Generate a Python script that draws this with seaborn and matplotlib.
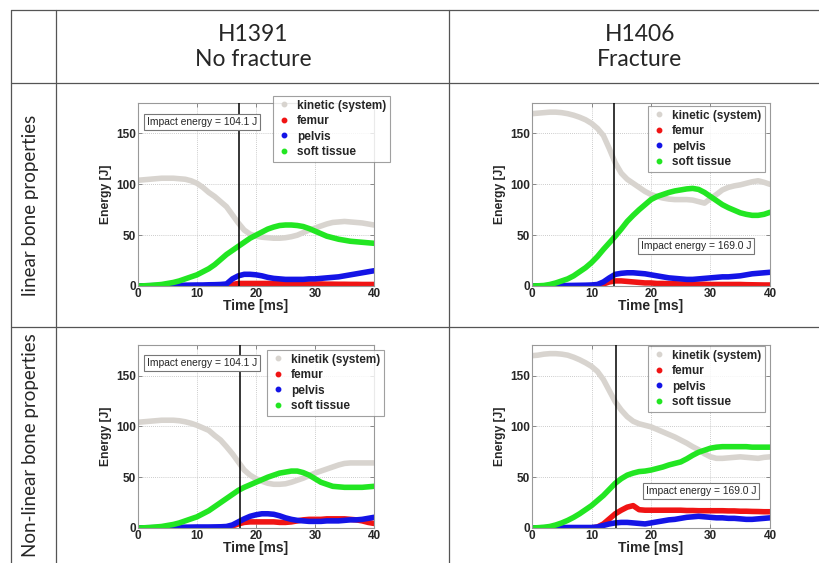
import numpy as np
import pandas as pd
import matplotlib
matplotlib.use("Agg")
import matplotlib.pyplot as plt
from matplotlib.lines import Line2D
import seaborn as sns

# ---------------- data ----------------
time_ms = list(range(0, 41))

series_names = ["kinetic (system)", "femur", "pelvis", "soft tissue"]
series_names_nl = ["kinetik (system)", "femur", "pelvis", "soft tissue"]

# linear bone properties, H1391 (no fracture)
lin_h1391_kinetic = [104, 104.5, 105, 105.5, 106, 106, 106, 105.5, 105, 103.5, 101, 97, 92, 88, 83, 78, 70, 62, 55, 51,
                     49, 48, 47.5, 47, 47, 47.5, 48.5, 50, 52.5, 55, 57, 59, 61, 62.5, 63, 63.5, 63, 62.5, 62, 61, 60]
lin_h1391_femur = [0, 0, 0, 0, 0, 0, 0, 0, 0, 0, 0, 0, 0, 0, 0.2, 0.4, 1.5, 2.5, 2.5, 2.5,
                   2.5, 2.5, 2.5, 2.5, 2.5, 2.5, 2.2, 2, 2, 2, 2, 2, 1.8, 1.8, 1.7, 1.7, 1.6, 1.6, 1.5, 1.5, 1.5]
lin_h1391_pelvis = [0, 0.2, 0.3, 0.4, 0.5, 0.5, 0.6, 0.7, 0.8, 0.9, 1, 1, 1.2, 1.3, 1.5, 2, 7, 10, 11.5, 11.5,
                    11, 10, 8.5, 7.5, 7, 6.5, 6.5, 6.5, 6.5, 7, 7, 7.5, 8, 8.5, 9, 10, 11, 12, 13, 14, 15]
lin_h1391_soft = [0, 0.2, 0.5, 1, 1.5, 2.5, 3.5, 5, 7, 9, 11, 14, 17, 21, 26, 31, 35, 39, 43, 47,
                  50, 53, 56, 58, 59.5, 60, 60, 59.5, 58.5, 56.5, 54, 51.5, 49, 47.5, 46, 45, 44, 43.5, 43, 42.5, 42]

# linear bone properties, H1406 (fracture)
lin_h1406_kinetic = [169.5, 170, 170.5, 171, 171, 170.5, 169.5, 168, 166, 163.5, 160, 155, 148, 135, 121, 111, 105, 101, 97, 93,
                     90, 88, 86.5, 85.5, 85, 85, 85, 84.5, 83, 81.5, 86, 90, 94.5, 97, 98.5, 99.5, 101, 102.5, 103.5, 102, 100]
lin_h1406_femur = [0, 0, 0, 0, 0, 0, 0, 0, 0, 0, 0, 0.3, 2, 4, 5, 5, 4.5, 4, 3.5, 3,
                   3, 2.5, 2.5, 2.3, 2.2, 2, 2, 1.9, 1.8, 1.7, 1.5, 1.5, 1.5, 1.5, 1.5, 1.5, 1.3, 1.2, 1.1, 1, 1]
lin_h1406_pelvis = [0, 0.1, 0.2, 0.3, 0.4, 0.5, 0.5, 0.6, 0.7, 0.8, 1, 1.5, 4, 8, 11.5, 12.5, 13, 13, 12.5, 12,
                    11, 10, 9, 8, 7.5, 7, 6.5, 6.5, 7, 7.5, 8, 8.5, 9, 9, 9.5, 10, 11, 12, 12.5, 13, 13.5]
lin_h1406_soft = [0, 0.2, 0.5, 1.5, 3, 5, 7, 10, 14, 18, 23, 29, 36, 42.5, 49, 56, 63.5, 69.5, 75, 80,
                  85, 88, 90, 92, 93.5, 94.5, 95.5, 96, 95, 92, 88, 84, 80, 77, 74.5, 72, 70.5, 69.5, 69.5, 70.5, 72.5]

# non-linear bone properties, H1391 (no fracture)
nl_h1391_kinetic = [104, 104.5, 105, 105.5, 106, 106, 106, 105.5, 104.5, 103, 101, 98.5, 96, 91, 86.5, 80, 73, 65, 57, 52,
                    48.5, 46, 44, 43, 43, 43.5, 45, 47, 49, 51.5, 54, 56, 58, 60, 62, 63.5, 64, 64, 64, 64, 64]
nl_h1391_femur = [0, 0, 0, 0, 0, 0, 0, 0, 0, 0, 0, 0, 0, 0, 0.2, 0.5, 2, 4, 5.5, 6,
                  6, 6, 6, 6, 5.5, 5.5, 6, 7, 8, 8.5, 8.5, 8.5, 9, 9, 9, 9, 8.5, 8, 7, 5.5, 4.5]
nl_h1391_pelvis = [0, 0.2, 0.3, 0.4, 0.5, 0.5, 0.6, 0.7, 0.8, 0.9, 1, 1, 1, 1.1, 1.2, 1.5, 3, 6, 9, 11.5,
                   13, 14, 14, 13.5, 12, 10, 8.5, 7.5, 7, 6.5, 6.5, 6.5, 7, 7, 7, 7.5, 8, 8, 8.5, 9.5, 10.5]
nl_h1391_soft = [0, 0.2, 0.5, 1, 1.5, 2.5, 3.5, 5, 7, 9, 11, 14, 17, 21, 25, 29, 33, 37, 40, 42.5,
                 45, 47.5, 50, 52, 54, 55, 56, 56, 54.5, 52, 48.5, 45, 43, 41, 40.5, 40, 40, 40, 40, 40.5, 41]

# non-linear bone properties, H1406 (fracture)
nl_h1406_kinetic = [169.5, 170, 171, 171.5, 171.5, 171, 170, 168, 165.5, 162.5, 159, 154, 146, 135, 124, 116, 109.5, 105, 102.5, 101,
                    99.5, 97, 94.5, 92, 89.5, 86.5, 83.5, 80, 77, 73, 70, 68.5, 68.5, 69, 69.5, 70, 69.5, 69, 68.5, 69.5, 70]
nl_h1406_femur = [0, 0, 0, 0, 0, 0, 0, 0, 0, 0, 0, 1, 4, 9, 14, 17.5, 20.5, 22, 18, 17.5,
                  17.5, 17.5, 17.5, 17.5, 17.5, 17.5, 17.2, 17.2, 17, 17, 17, 17, 17, 16.8, 16.8, 16.5, 16.5, 16.3, 16.2, 16, 16]
nl_h1406_pelvis = [0, 0.2, 0.3, 0.4, 0.5, 0.5, 0.5, 0.5, 0.5, 0.5, 0.5, 1, 2.5, 4, 5, 5.5, 5.5, 5, 4.5, 4,
                   5, 6, 7, 8, 8.5, 9.5, 10.5, 11, 11.5, 11, 10.5, 10, 10, 9.5, 9.5, 9, 8.5, 8.5, 9, 9.5, 10]
nl_h1406_soft = [0, 0.3, 0.7, 1.5, 3, 5, 7.5, 10.5, 14, 18, 22, 27, 32, 38, 44, 48.5, 52, 54, 55.5, 56,
                 57, 58.5, 60, 62, 63.5, 65, 68, 71.5, 74.5, 76.5, 78.5, 79.5, 80, 80, 80, 80, 80, 79.5, 79.5, 79.5, 79.5]

impact_energy_labels = ["Impact energy = 104.1 J", "Impact energy = 169.0 J",
                        "Impact energy = 104.1 J", "Impact energy = 169.0 J"]
impact_times = [17.2, 13.8, 17.3, 14.1]

column_headers = ["H1391\nNo fracture", "H1406\nFracture"]
row_headers = ["linear bone properties", "Non-linear bone properties"]

x_ticks = [0, 10, 20, 30, 40]
y_ticks = [0, 50, 100, 150]

colors = ["#d8d4cf", "#f01414", "#1414e6", "#22e622"]

panels = [
    (series_names, [lin_h1391_kinetic, lin_h1391_femur, lin_h1391_pelvis, lin_h1391_soft]),
    (series_names, [lin_h1406_kinetic, lin_h1406_femur, lin_h1406_pelvis, lin_h1406_soft]),
    (series_names_nl, [nl_h1391_kinetic, nl_h1391_femur, nl_h1391_pelvis, nl_h1391_soft]),
    (series_names_nl, [nl_h1406_kinetic, nl_h1406_femur, nl_h1406_pelvis, nl_h1406_soft]),
]

# ---------------- layout ----------------
W, H = 820, 563
sns.set_theme(style="white")
plt.rcParams["font.family"] = ["Liberation Sans", "DejaVu Sans"]

fig = plt.figure(figsize=(W / 100, H / 100), dpi=100)
fig.patch.set_facecolor("white")


def fx(px):
    return px / W


def fy(py):
    return 1 - py / H


# axes boxes in pixel coords: (left, top, right, bottom)
ax_boxes = [(138, 103, 374, 286), (532, 103, 770, 286), (138, 345, 374, 528), (532, 345, 770, 528)]
legend_anchor = [(273, 96), (648, 106), (267, 350), (648, 346)]
impact_box_center = [(202, 122), (696, 246), (202, 363), (701, 491)]

for i, ((names, vals), box) in enumerate(zip(panels, ax_boxes)):
    l, t, r, b = box
    ax = fig.add_axes([fx(l), fy(b), fx(r - l), (b - t) / H])
    rows = []
    for name, v in zip(names, vals):
        for tt, e in zip(time_ms, v):
            rows.append((tt, e, name))
    df = pd.DataFrame(rows, columns=["Time", "Energy", "series"])
    sns.lineplot(data=df, x="Time", y="Energy", hue="series", hue_order=names,
                 palette=dict(zip(names, colors)), lw=4.0, legend=False, ax=ax,
                 sort=False, solid_capstyle="round")
    ax.set_xlim(0, 40)
    ax.set_ylim(0, 180)
    ax.set_xticks(x_ticks)
    ax.set_yticks(y_ticks)
    ax.set_xticklabels([str(v) for v in x_ticks], fontsize=8.5, fontweight="bold")
    ax.set_yticklabels([str(v) for v in y_ticks], fontsize=8.5, fontweight="bold")
    ax.tick_params(axis="both", direction="in", length=3, width=0.6, color="#777777",
                   pad=1.5, top=True, right=True, bottom=True, left=True)
    ax.grid(True, linestyle=(0, (1, 1.5)), color="#bbbbbb", lw=0.6)
    ax.set_axisbelow(True)
    for s in ax.spines.values():
        s.set_color("#999999")
        s.set_linewidth(0.8)
    ax.set_xlabel("Time [ms]", fontsize=10, fontweight="bold", labelpad=-1)
    ax.set_ylabel("Energy [J]", fontsize=8.7, fontweight="bold", labelpad=3)
    ax.axvline(impact_times[i], color="black", lw=1.1, zorder=5)

    handles = [Line2D([], [], marker="o", ms=3.2, ls="none", color=c) for c in colors]
    lx, ly = legend_anchor[i]
    leg = ax.legend(handles, names, loc="upper left", bbox_to_anchor=(fx(lx), fy(ly)),
                    bbox_transform=fig.transFigure, frameon=True, fancybox=False,
                    borderaxespad=0, handlelength=1.2, handletextpad=0.55,
                    borderpad=0.3, labelspacing=0.3,
                    prop={"size": 8.5, "weight": "bold"})
    leg.get_frame().set_edgecolor("#888888")
    leg.get_frame().set_linewidth(0.8)
    leg.set_zorder(10)

    cx, cy = impact_box_center[i]
    ax.text(fx(cx), fy(cy), impact_energy_labels[i], transform=fig.transFigure,
            ha="center", va="center", fontsize=7.4, zorder=11,
            bbox=dict(boxstyle="square,pad=0.3", fc="white", ec="#777777", lw=0.8))

# ---------------- table lines ----------------
line_col = "#555555"
for y in (10, 83, 327):
    fig.add_artist(Line2D([fx(11), 1], [fy(y), fy(y)], color=line_col, lw=0.9))
for x in (11, 56, 449):
    fig.add_artist(Line2D([fx(x), fx(x)], [fy(10), 0], color=line_col, lw=0.9))

hdr_font = ["Lato", "DejaVu Sans"]
fig.text(fx(253), fy(47), column_headers[0], ha="center", va="center", fontsize=16.5,
         family=hdr_font, linespacing=1.25)
fig.text(fx(640), fy(47), column_headers[1], ha="center", va="center", fontsize=16.5,
         family=hdr_font, linespacing=1.25)
fig.text(fx(31), fy(205), row_headers[0], ha="center", va="center", rotation=90,
         fontsize=13.5, family=hdr_font)
fig.text(fx(31), fy(445), row_headers[1], ha="center", va="center", rotation=90,
         fontsize=13.5, family=hdr_font)

fig.savefig("out.png", dpi=100, facecolor="white")
